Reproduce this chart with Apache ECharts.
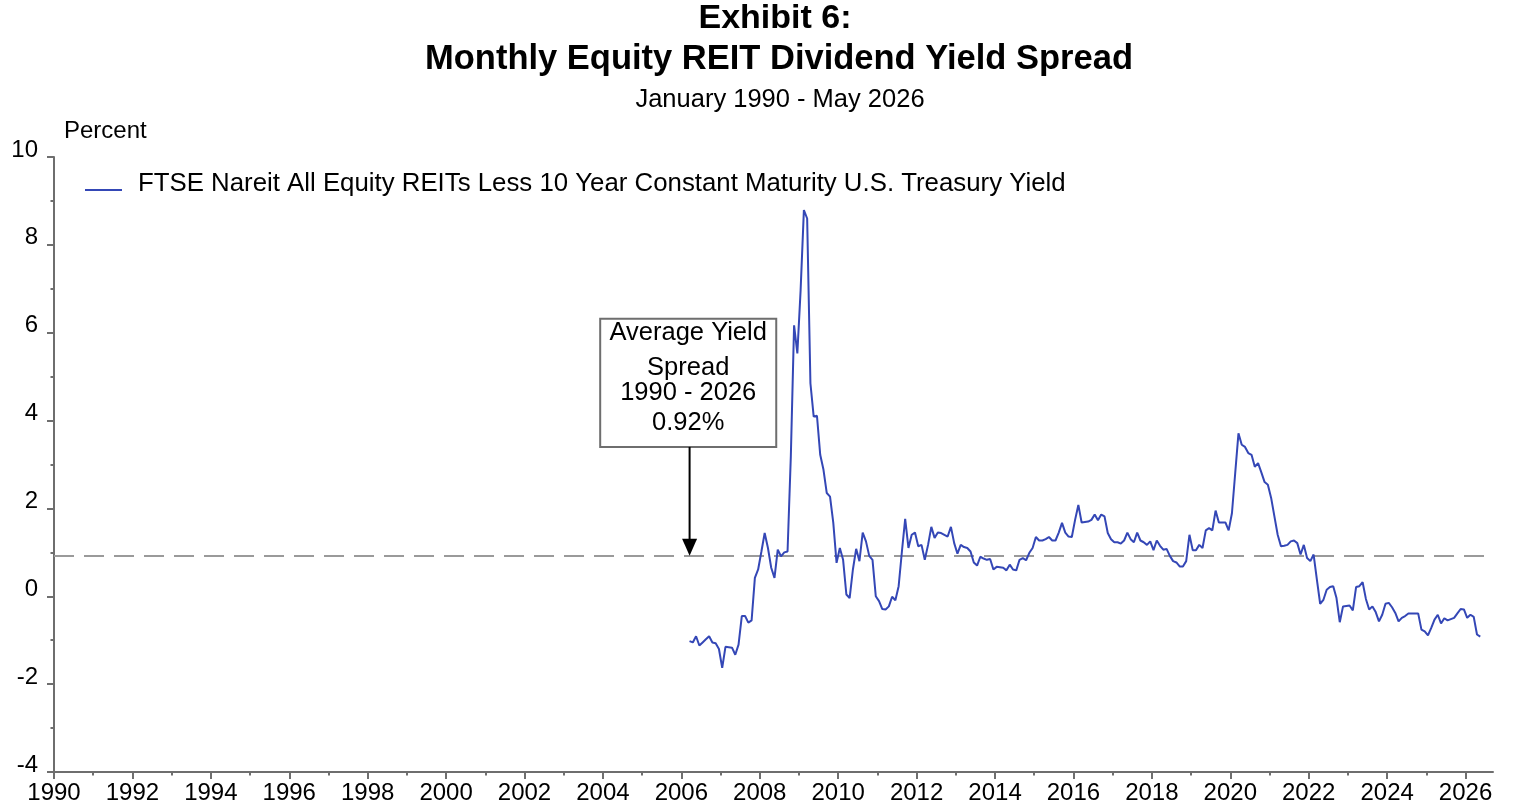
<!DOCTYPE html>
<html>
<head>
<meta charset="utf-8">
<script src="https://cdn.jsdelivr.net/npm/echarts@6/dist/echarts.min.js"></script>
<style>
html,body{margin:0;padding:0;background:#fff;}
#chart{width:1514px;height:808px;}
</style>
</head>
<body>
<div id="chart"></div>
<script>
// ---- data ----
const seriesName = 'FTSE Nareit All Equity REITs Less 10 Year Constant Maturity U.S. Treasury Yield';
const startYear = 2006;
const startMonth = 3; // March 2006, monthly through May 2026
const spreadValues = [
  -1.02,-1.05,-0.91,-1.12,-1.05,-0.98,-0.91,-1.05,-1.07,-1.20,-1.63,-1.15,
  -1.16,-1.17,-1.33,-1.10,-0.45,-0.45,-0.60,-0.55,0.42,0.61,1.02,1.44,
  1.10,0.65,0.42,1.06,0.91,1.00,1.02,3.18,6.17,5.53,6.97,8.79,
  8.60,4.85,4.09,4.11,3.22,2.88,2.35,2.27,1.67,0.76,1.10,0.83,
  0.04,-0.04,0.61,1.08,0.80,1.45,1.25,0.92,0.83,0.00,-0.11,-0.29,
  -0.30,-0.23,-0.01,-0.09,0.23,1.02,1.76,1.10,1.40,1.45,1.14,1.17,
  0.83,1.17,1.58,1.33,1.45,1.44,1.40,1.36,1.58,1.21,0.97,1.17,
  1.12,1.10,1.02,0.77,0.70,0.90,0.86,0.83,0.85,0.61,0.67,0.66,
  0.65,0.59,0.72,0.61,0.59,0.83,0.87,0.82,0.99,1.10,1.35,1.27,
  1.27,1.30,1.35,1.27,1.27,1.45,1.67,1.45,1.36,1.35,1.74,2.08,
  1.68,1.69,1.70,1.74,1.86,1.73,1.86,1.82,1.44,1.30,1.23,1.23,
  1.20,1.27,1.45,1.30,1.23,1.45,1.27,1.23,1.17,1.25,1.05,1.27,
  1.15,1.06,1.08,0.92,0.80,0.77,0.68,0.68,0.80,1.40,1.05,1.05,
  1.17,1.10,1.50,1.55,1.50,1.95,1.68,1.68,1.68,1.50,1.89,2.80,
  3.71,3.45,3.40,3.26,3.22,2.95,3.03,2.82,2.60,2.54,2.24,1.82,
  1.40,1.14,1.15,1.17,1.25,1.27,1.21,0.95,1.17,0.87,0.80,0.95,
  0.38,-0.17,-0.08,0.15,0.21,0.23,-0.04,-0.59,-0.23,-0.22,-0.21,-0.32,
  0.21,0.23,0.32,-0.06,-0.30,-0.23,-0.36,-0.57,-0.42,-0.17,-0.15,-0.25,
  -0.38,-0.57,-0.49,-0.45,-0.39,-0.39,-0.39,-0.39,-0.76,-0.80,-0.89,-0.72,
  -0.53,-0.42,-0.62,-0.50,-0.55,-0.52,-0.49,-0.39,-0.29,-0.30,-0.49,-0.42,
  -0.47,-0.87,-0.92
];
const averageSpread = 0.92;
const xTickYears = [1990,1992,1994,1996,1998,2000,2002,2004,2006,2008,2010,2012,2014,2016,2018,2020,2022,2024,2026];
const xMinorYears = [1991,1993,1995,1997,1999,2001,2003,2005,2007,2009,2011,2013,2015,2017,2019,2021,2023,2025];
const annotationLines = ['Average Yield', 'Spread', '1990 - 2026', '0.92%'];

// month index -> decimal year (mid-month)
const monthDates = spreadValues.map((v, i) => {
  const m = startMonth - 1 + i;
  return startYear + Math.floor(m / 12) + ((m % 12) + 0.5) / 12;
});
const seriesData = spreadValues.map((v, i) => [monthDates[i], v]);

const FONT = '"Liberation Sans", Arial, sans-serif';
const xMin = 1990, xMax = 2026.7;

const chart = echarts.init(document.getElementById('chart'), null, {renderer: 'canvas'});
const option = {
  backgroundColor: '#ffffff',
  animation: false,
  textStyle: {fontFamily: FONT, color: '#000'},
  title: [
    {text: 'Exhibit 6:', left: 770, top: -4, textAlign: 'center',
     textStyle: {fontFamily: FONT, fontSize: 34, fontWeight: 'bold', color: '#000', lineHeight: 36}},
    {text: 'Monthly Equity REIT Dividend Yield Spread', left: 774, top: 36, textAlign: 'center',
     textStyle: {fontFamily: FONT, fontSize: 34.5, fontWeight: 'bold', color: '#000', lineHeight: 36}},
    {text: 'January 1990 - May 2026', left: 775, top: 81, textAlign: 'center',
     textStyle: {fontFamily: FONT, fontSize: 25.5, fontWeight: 'normal', color: '#000', lineHeight: 27}}
  ],
  legend: {
    show: true,
    left: 85, top: 171,
    padding: 0,
    icon: 'path://M0 0L37 0L37 0.01L0 0.01Z M0 12L37 12L37 14L0 14Z',
    itemWidth: 37, itemHeight: 14,
    data: [seriesName],
    textStyle: {fontFamily: FONT, fontSize: 25.8, color: '#000', padding: [0, 0, 0, 11]}
  },
  grid: {left: 54, right: 21, top: 157, bottom: 36, containLabel: false},
  xAxis: [
    {
      type: 'value', min: xMin, max: xMax, interval: 2,
      position: 'bottom',
      axisLine: {show: true, onZero: false, lineStyle: {color: '#6e6e6e', width: 2}},
      axisTick: {show: true, length: 7, lineStyle: {color: '#6e6e6e', width: 2}, customValues: xTickYears},
      axisLabel: {show: true, customValues: xTickYears, margin: 9, fontFamily: FONT, fontSize: 24, color: '#000',
                  formatter: v => String(Math.round(v))},
      splitLine: {show: false}
    },
    {
      type: 'value', min: xMin, max: xMax, interval: 2,
      position: 'bottom',
      axisLine: {show: false, onZero: false},
      axisTick: {show: true, length: 3.5, lineStyle: {color: '#6e6e6e', width: 2}, customValues: xMinorYears},
      axisLabel: {show: false},
      splitLine: {show: false}
    }
  ],
  yAxis: {
    type: 'value', min: -4, max: 10, interval: 2,
    name: 'Percent', nameLocation: 'end', nameGap: 14,
    nameTextStyle: {fontFamily: FONT, fontSize: 24, color: '#000', align: 'left', padding: [0, 0, 0, 10]},
    axisLine: {show: true, lineStyle: {color: '#6e6e6e', width: 2}},
    axisTick: {show: true, length: 7, lineStyle: {color: '#6e6e6e', width: 2}},
    minorTick: {show: true, splitNumber: 2, length: 3.5, lineStyle: {color: '#6e6e6e', width: 2}},
    axisLabel: {margin: 16, fontFamily: FONT, fontSize: 24, color: '#000', verticalAlign: 'bottom', lineHeight: 14},
    splitLine: {show: false}
  },
  series: [{
    name: seriesName,
    type: 'line',
    data: seriesData,
    showSymbol: false,
    symbol: 'none',
    lineStyle: {color: '#3447B6', width: 2},
    itemStyle: {color: '#3447B6'},
    z: 3,
    markLine: {
      silent: true,
      symbol: ['none', 'none'],
      label: {show: false},
      lineStyle: {color: '#9a9a9a', width: 2, type: [20, 10]},
      data: [{yAxis: averageSpread}],
      z: 1
    }
  }]
};
chart.setOption(option);

// ---- annotation box + arrow, placed through the chart's own coordinate system ----
const annotArrowX = 2006.21;
const annotBoxLeft = 2003.93, annotBoxRight = 2008.42;
const annotBoxTop = 6.32, annotBoxBottom = 3.40;
const px = p => chart.convertToPixel({gridIndex: 0}, p);
const tip = px([annotArrowX, averageSpread]);
const tl = px([annotBoxLeft, annotBoxTop]);
const br = px([annotBoxRight, annotBoxBottom]);
const boxW = br[0] - tl[0], boxH = br[1] - tl[1];
const cx = (tl[0] + br[0]) / 2;
const lineOffsets = [14, 49, 74, 104];
const headH = 17, headW = 15;
const graphics = [
  {type: 'rect', shape: {x: tl[0], y: tl[1], width: boxW, height: boxH},
   style: {fill: '#ffffff', stroke: '#6e6e6e', lineWidth: 2}, z: 10},
  {type: 'line', shape: {x1: tip[0], y1: br[1], x2: tip[0], y2: tip[1] - headH + 2},
   style: {stroke: '#000', lineWidth: 2}, z: 10},
  {type: 'polygon', shape: {points: [[tip[0] - headW / 2, tip[1] - headH], [tip[0] + headW / 2, tip[1] - headH], [tip[0], tip[1]]]},
   style: {fill: '#000'}, z: 10}
];
annotationLines.forEach((t, i) => {
  graphics.push({type: 'text', x: cx, y: tl[1] + lineOffsets[i], z: 11,
    style: {text: t, fill: '#000', font: '25.5px "Liberation Sans", Arial, sans-serif', align: 'center', verticalAlign: 'middle'}});
});
chart.setOption({graphic: graphics});
</script>
</body>
</html>
